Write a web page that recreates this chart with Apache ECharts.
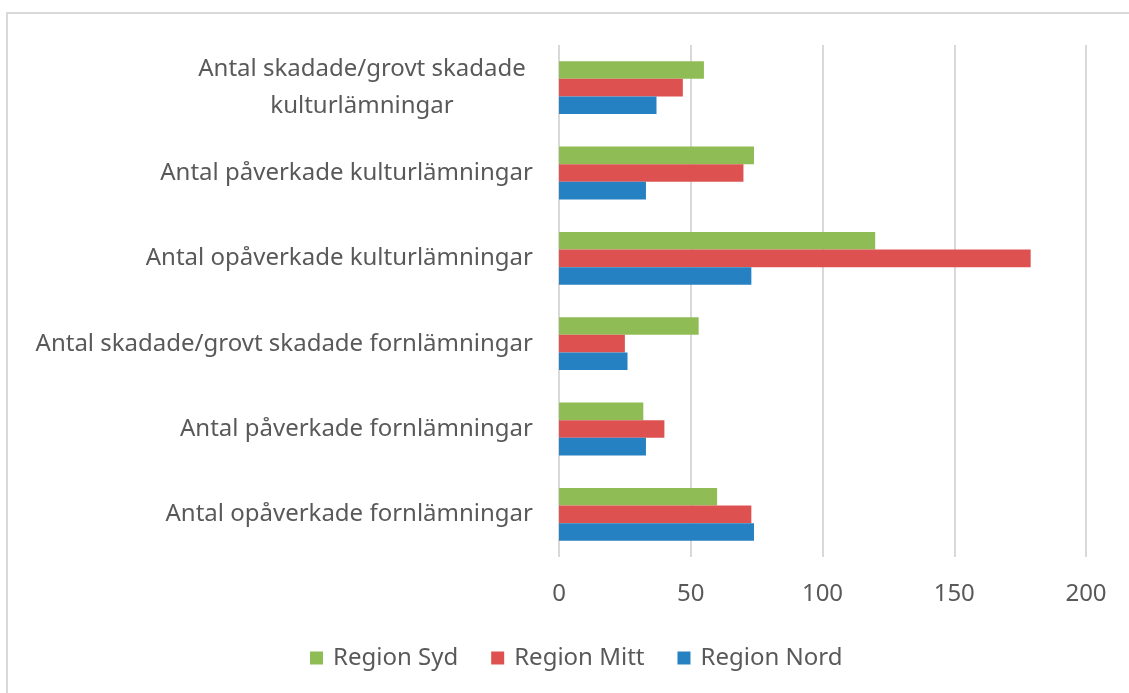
<!DOCTYPE html>
<html>
<head>
<meta charset="utf-8">
<script src="https://cdn.jsdelivr.net/npm/echarts@6/dist/echarts.min.js"></script>
<style>
html, body { margin: 0; padding: 0; background: #fff; }
#main { position: absolute; left: 0; top: 0; width: 1129px; height: 693px; }
.frame { position: absolute; left: 6px; top: 12px; right: -4px; bottom: -4px;
  border-left: 2px solid #d9d9d9; border-top: 2px solid #d9d9d9; pointer-events: none; }
</style>
</head>
<body>
<div id="main"></div>
<div class="frame"></div>
<script>
  // kategorier, nedifrån och upp (y-axelns ordning)
  var categories = [
    'Antal opåverkade fornlämningar',
    'Antal påverkade fornlämningar',
    'Antal skadade/grovt skadade fornlämningar',
    'Antal opåverkade kulturlämningar',
    'Antal påverkade kulturlämningar',
    'Antal skadade/grovt skadade kulturlämningar'
  ];
  var regionSyd  = [60, 32, 53, 120, 74, 55];
  var regionMitt = [73, 40, 25, 179, 70, 47];
  var regionNord = [74, 33, 26, 73, 33, 37];
  var xTicks = [0, 50, 100, 150, 200];

  var myChart = echarts.init(document.getElementById('main'));
  var font = 'Noto Sans';

  var option = {
    animation: false,
    textStyle: { fontFamily: font },
    color: ['#8fbc54', '#dd5250', '#2581c1'],
    legend: {
      data: ['Region Syd', 'Region Mitt', 'Region Nord'],
      bottom: 18,
      left: 305,
      itemWidth: 13,
      itemHeight: 13,
      itemGap: 33,
      icon: 'rect',
      textStyle: { fontSize: 24, color: '#595959', fontFamily: font, padding: [0, 0, 0, 5] }
    },
    grid: {
      left: 559,
      right: 43,
      top: 45,
      bottom: 136
    },
    xAxis: {
      type: 'value',
      min: xTicks[0],
      max: xTicks[xTicks.length - 1],
      interval: 50,
      axisLine: { show: false },
      axisTick: { show: false },
      axisLabel: { fontSize: 24, color: '#595959', margin: 25 },
      splitLine: { lineStyle: { color: '#d9d9d9', width: 2 } }
    },
    yAxis: {
      type: 'category',
      data: categories,
      axisLine: { show: false },
      axisTick: { show: false },
      axisLabel: {
        fontSize: 24,
        color: '#595959',
        margin: 26,
        formatter: function (v) {
          if (v === 'Antal skadade/grovt skadade kulturlämningar') {
            return '{c|Antal skadade/grovt skadade}\n{c|kulturlämningar}';
          }
          return v;
        },
        rich: {
          c: { fontSize: 24, color: '#595959', width: 342, align: 'center', lineHeight: 37, fontFamily: font }
        }
      }
    },
    series: [
      { name: 'Region Syd',  type: 'bar', data: regionSyd,  barGap: '0%', barCategoryGap: '38%' },
      { name: 'Region Mitt', type: 'bar', data: regionMitt, barGap: '0%', barCategoryGap: '38%' },
      { name: 'Region Nord', type: 'bar', data: regionNord, barGap: '0%', barCategoryGap: '38%' }
    ]
  };

  myChart.setOption(option);
  window.onresize = function () {
    myChart.resize();
  };
</script>
</body>
</html>
